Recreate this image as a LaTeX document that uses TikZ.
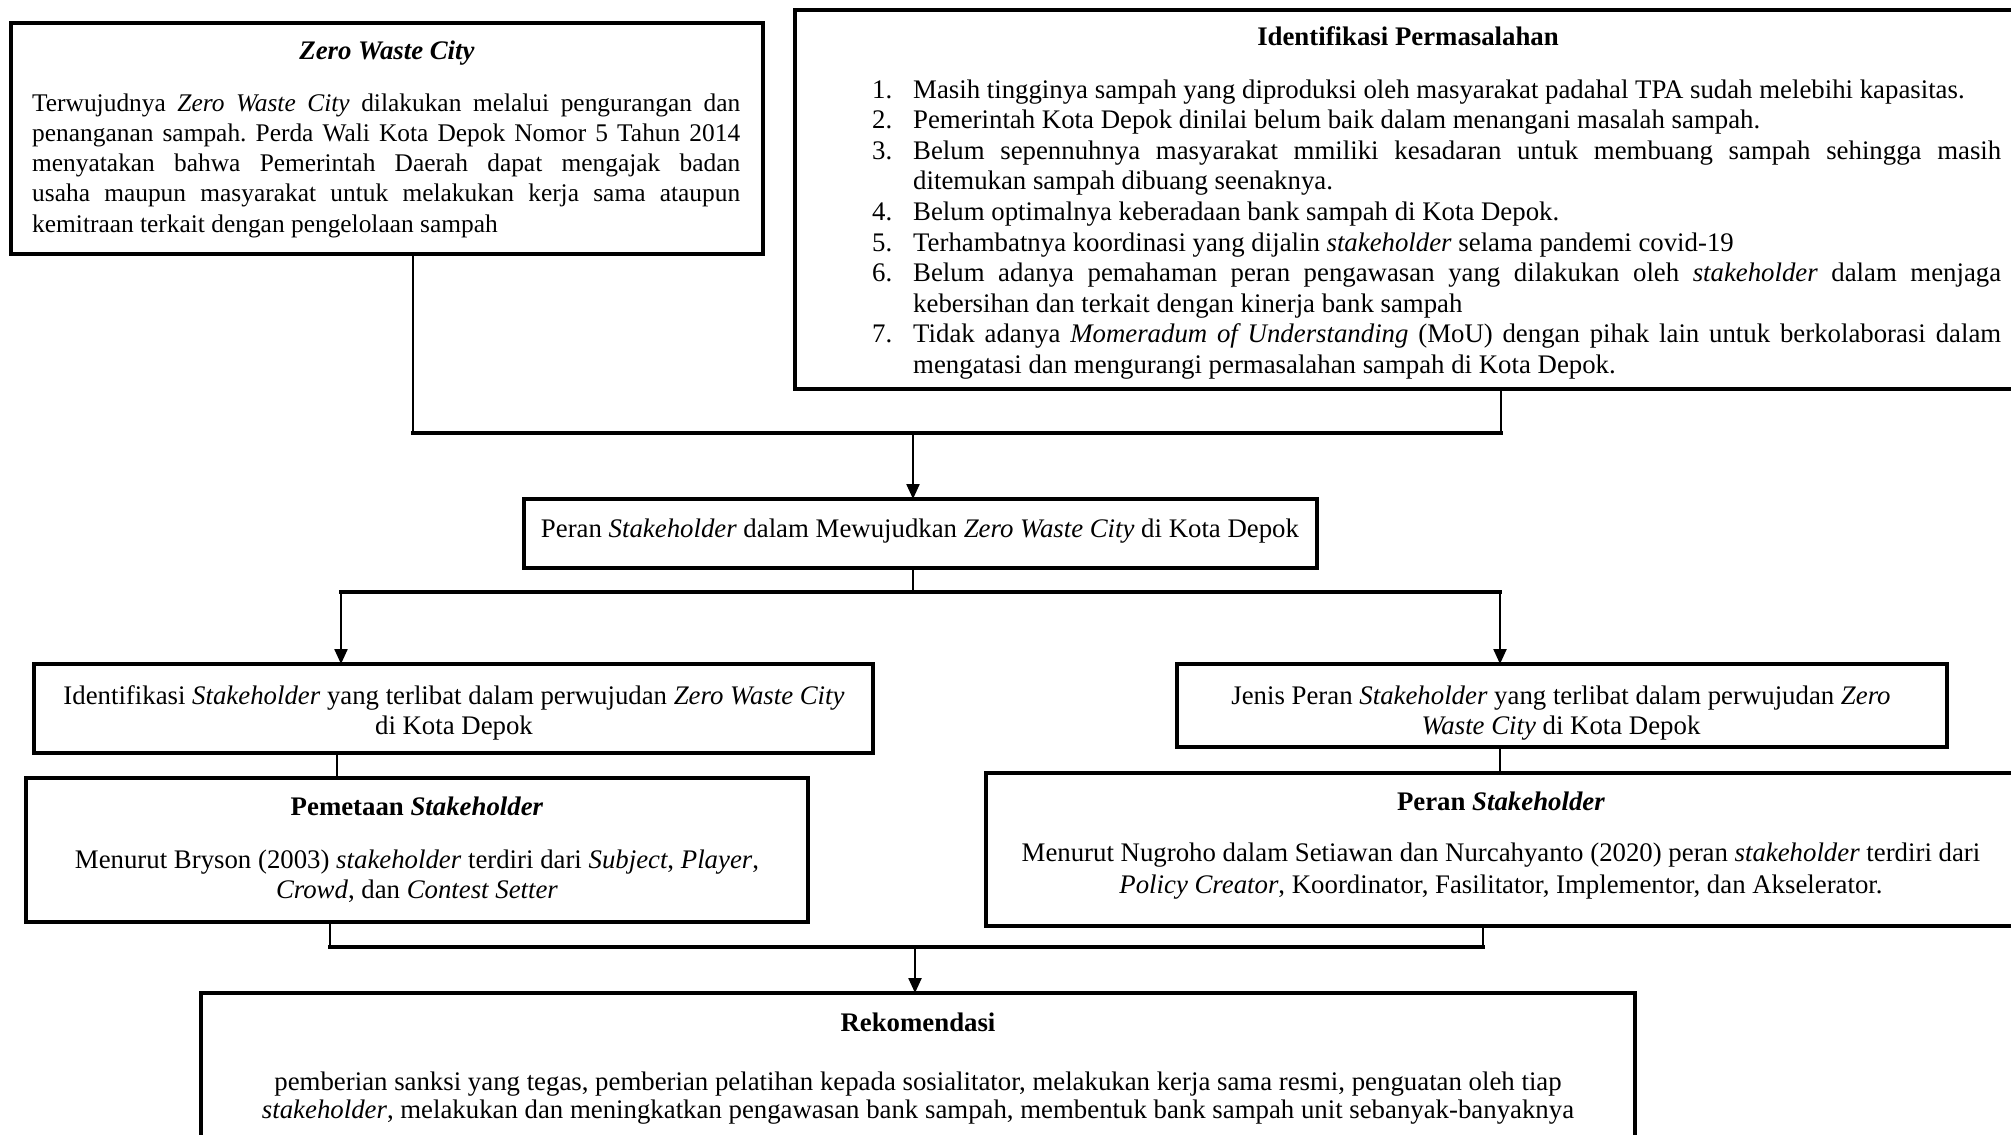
\documentclass[tikz,border=0pt]{standalone}
\usepackage{fontspec}
\setmainfont{Liberation Serif}
\usetikzlibrary{arrows.meta}
\tolerance=9999
\hbadness=10000
\frenchspacing

\tikzset{
  box/.style={draw, line width=3.5pt, anchor=north west, inner sep=0pt, outer sep=0pt},
  link/.style={line width=2.3pt},
  bar/.style={line width=3.5pt, line cap=rect},
  tip/.style={-{Triangle[length=15pt,width=13pt]}},
  txt/.style={inner sep=0pt, font=\fontsize{26.8}{30.6}\selectfont},
}
\newcommand{\numitem}[1]{\par\hangindent=41pt\hangafter=1\noindent\makebox[41pt][l]{#1}}

\begin{document}
\begin{tikzpicture}[x=1pt,y=1pt,yscale=-1,xscale=1]
\useasboundingbox (0,0) rectangle (2011,1135);
\clip (0,0) rectangle (2011,1135);

%Shape: Rectangle
\node (zwc) [box, minimum width=752pt, minimum height=231pt] at (11,23) {};
%Shape: Rectangle
\node (ident) [box, minimum width=1226pt, minimum height=379pt] at (795,10) {};
%Shape: Rectangle
\node (peran) [box, minimum width=793pt, minimum height=69pt] at (524,499) {};
%Shape: Rectangle
\node (idsh) [box, minimum width=839pt, minimum height=89pt] at (34,664) {};
%Shape: Rectangle
\node (jenis) [box, minimum width=770pt, minimum height=83pt] at (1177,664) {};
%Shape: Rectangle
\node (pemetaan) [box, minimum width=782pt, minimum height=144pt] at (26,778) {};
%Shape: Rectangle
\node (peransh) [box, minimum width=1030pt, minimum height=153pt] at (986,773) {};
%Shape: Rectangle
\node (rekom) [box, minimum width=1434pt, minimum height=170pt] at (201,993) {};

% Junctions
\coordinate (jz) at (413,433);
\coordinate (ji) at (1501,433);
\coordinate (jp) at (913,433);
\coordinate (sp) at (913,592);
\coordinate (sl) at (341,592);
\coordinate (sr) at (1500,592);
\coordinate (kl) at (337,765);
\coordinate (kr) at (1500,760);
\coordinate (bl) at (330,947);
\coordinate (br) at (1483,947);
\coordinate (bm) at (915,947);

%Straight Lines
\draw [link] (zwc.south -| jz) -- (jz);
\draw [link] (ident.south -| ji) -- (ji);
\draw [bar] (jz) -- (ji);
\draw [link, tip] (jp) -- (peran.north -| jp);
%Straight Lines
\draw [link] (peran.south -| sp) -- (sp);
\draw [bar] (sl) -- (sr);
\draw [link, tip] (sl) -- (idsh.north -| sl);
\draw [link, tip] (sr) -- (jenis.north -| sr);
%Straight Lines
\draw [link] (idsh.south -| kl) -- (pemetaan.north -| kl);
\draw [link] (jenis.south -| kr) -- (peransh.north -| kr);
%Straight Lines
\draw [link] (pemetaan.south -| bl) -- (bl);
\draw [link] (peransh.south -| br) -- (br);
\draw [bar] (bl) -- (br);
\draw [link, tip] (bm) -- (rekom.north -| bm);

% Text Node
\node (zwcTitle) [txt, anchor=base] at (387,59) {\textbf{\textit{Zero Waste City}}};
% Text Node
\node (zwcText) [txt, font=\fontsize{25.4}{30.3}\selectfont, anchor=base west] at (32,111) {\begin{minipage}[t]{708pt}
Terwujudnya \textit{Zero Waste City} dilakukan melalui pengurangan dan\linebreak
penanganan sampah. Perda Wali Kota Depok Nomor 5 Tahun 2014\linebreak
menyatakan bahwa Pemerintah Daerah dapat mengajak badan\linebreak
usaha maupun masyarakat untuk melakukan kerja sama ataupun\linebreak
kemitraan terkait dengan pengelolaan sampah
\end{minipage}};
% Text Node
\node (identTitle) [txt, anchor=base] at (1408,45) {\textbf{Identifikasi Permasalahan}};
% Text Node
\node (identText) [txt, anchor=base west] at (872,98) {\begin{minipage}[t]{1129pt}
\numitem{1.}Masih tingginya sampah yang diproduksi oleh masyarakat padahal TPA sudah melebihi kapasitas.
\numitem{2.}Pemerintah Kota Depok dinilai belum baik dalam menangani masalah sampah.
\numitem{3.}Belum sepennuhnya masyarakat mmiliki kesadaran untuk membuang sampah sehingga masih\linebreak
ditemukan sampah dibuang seenaknya.
\numitem{4.}Belum optimalnya keberadaan bank sampah di Kota Depok.
\numitem{5.}Terhambatnya koordinasi yang dijalin \textit{stakeholder} selama pandemi covid-19
\numitem{6.}Belum adanya pemahaman peran pengawasan yang dilakukan oleh \textit{stakeholder} dalam menjaga\linebreak
kebersihan dan terkait dengan kinerja bank sampah
\numitem{7.}Tidak adanya \textit{Momeradum of Understanding} (MoU) dengan pihak lain untuk berkolaborasi dalam\linebreak
mengatasi dan mengurangi permasalahan sampah di Kota Depok.
\end{minipage}};
% Text Node
\node (peranText) [txt, anchor=base] at (920,537) {Peran \textit{Stakeholder} dalam Mewujudkan \textit{Zero Waste City} di Kota Depok};
% Text Node
\node (idshText) [txt, anchor=base] at (454,704) {\begin{minipage}[t]{820pt}\centering
Identifikasi \textit{Stakeholder} yang terlibat dalam perwujudan \textit{Zero Waste City}\\
di Kota Depok
\end{minipage}};
% Text Node
\node (jenisText) [txt, anchor=base] at (1561,704) {\begin{minipage}[t]{750pt}\centering
Jenis Peran \textit{Stakeholder} yang terlibat dalam perwujudan \textit{Zero}\\
\textit{Waste City} di Kota Depok
\end{minipage}};
% Text Node
\node (pemetaanTitle) [txt, anchor=base] at (417,815) {\textbf{Pemetaan \textit{Stakeholder}}};
% Text Node
\node (pemetaanText) [txt, anchor=base] at (417,868) {\begin{minipage}[t]{770pt}\centering
Menurut Bryson (2003) \textit{stakeholder} terdiri dari \textit{Subject}, \textit{Player},\\
\textit{Crowd}, dan \textit{Contest Setter}
\end{minipage}};
% Text Node
\node (peranshTitle) [txt, anchor=base] at (1501,810) {\textbf{Peran \textit{Stakeholder}}};
% Text Node
\node (peranshText) [txt, font=\fontsize{26.8}{32}\selectfont, anchor=base] at (1501,861) {\begin{minipage}[t]{1010pt}\centering
Menurut Nugroho dalam Setiawan dan Nurcahyanto (2020) peran \textit{stakeholder} terdiri dari\\
\textit{Policy Creator}, Koordinator, Fasilitator, Implementor, dan Akselerator.
\end{minipage}};
% Text Node
\node (rekomTitle) [txt, anchor=base] at (918,1031) {\textbf{Rekomendasi}};
% Text Node
\node (rekomText) [txt, font=\fontsize{26.8}{28}\selectfont, anchor=base] at (918,1090) {\begin{minipage}[t]{1420pt}\centering
pemberian sanksi yang tegas, pemberian pelatihan kepada sosialitator, melakukan kerja sama resmi, penguatan oleh tiap\\
\textit{stakeholder}, melakukan dan meningkatkan pengawasan bank sampah, membentuk bank sampah unit sebanyak-banyaknya
\end{minipage}};

\end{tikzpicture}
\end{document}
